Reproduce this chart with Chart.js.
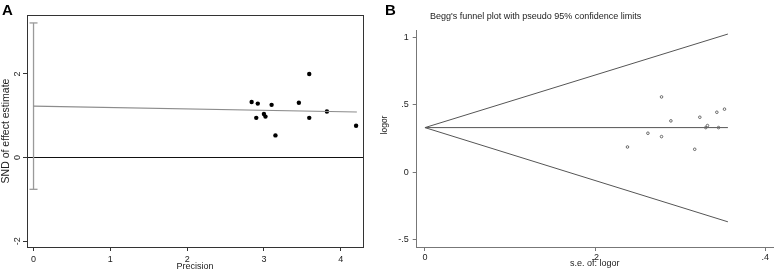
<!DOCTYPE html>
<html>
<head>
<meta charset="utf-8">
<script src="https://cdn.jsdelivr.net/npm/chart.js@4.4.1/dist/chart.umd.min.js"></script>
<style>
  html, body { margin: 0; padding: 0; background: #fff; }
  #wrap { position: relative; width: 778px; height: 272px; overflow: hidden; }
  canvas { position: absolute; top: 0; }
  #chartA { left: 0; }
  #chartB { left: 378px; }
</style>
</head>
<body>
<div id="wrap">
  <canvas id="chartA" width="380" height="272"></canvas>
  <canvas id="chartB" width="400" height="272"></canvas>
</div>
<script>
'use strict';

// Panel A - Egger's test: precision vs standard normal deviate
var precision   = [2.84, 2.92, 2.90, 3.00, 3.02, 3.10, 3.15, 3.455, 3.59, 3.59, 3.82, 4.20];
var sndEffect   = [1.33, 1.29, 0.95, 1.04, 0.98, 1.26, 0.53, 1.31, 2.00, 0.95, 1.10, 0.76];
var eggerLineX  = [0, 4.21];
var eggerLineY  = [1.23, 1.09];
var interceptCI = [-0.76, 3.22];   // 95% CI of the intercept, shown at precision 0
var aXTicks     = [0, 1, 2, 3, 4];
var aYTicks     = [-2, 0, 2];

// Panel B - Begg's funnel plot
var seLogor     = [0.352, 0.343, 0.345, 0.332, 0.330, 0.323, 0.317, 0.289, 0.278, 0.278, 0.262, 0.238];
var logor       = [0.467, 0.444, 0.330, 0.345, 0.330, 0.407, 0.169, 0.380, 0.558, 0.263, 0.288, 0.186];
var funnelSE    = [0, 0.356];
var pooledLogor = [0.33, 0.33];
var upperLimit  = [0.33, 1.025];
var lowerLimit  = [0.33, -0.37];
var bXTicks     = [0, 0.2, 0.4];
var bXLabels    = ['0', '.2', '.4'];
var bYTicks     = [-0.5, 0, 0.5, 1];
var bYLabels    = ['-.5', '0', '.5', '1'];

var FAMILY = '"Liberation Sans", Arial, Helvetica, sans-serif';
Chart.defaults.font.family = FAMILY;
Chart.defaults.color = '#333';

function toPoints(xs, ys) {
    return xs.map(function (x, i) { return { x: x, y: ys[i] }; });
}

function fixedTicks(values) {
    return function (scale) {
        scale.ticks = values.map(function (v) { return { value: v }; });
    };
}

function labelFrom(values, labels) {
    return function (value) {
        var i = values.indexOf(value);
        return i < 0 ? '' : labels[i];
    };
}

// outline round the plot region (panel A only)
var frame = {
    id: 'frame',
    beforeDatasetsDraw: function (chart, args, opts) {
        var a = chart.chartArea, ctx = chart.ctx;
        ctx.save();
        ctx.strokeStyle = opts.color || '#333';
        ctx.lineWidth = 1;
        ctx.strokeRect(Math.round(a.left) + 0.5, Math.round(a.top) + 0.5,
                       Math.round(a.right - a.left), Math.round(a.bottom - a.top));
        ctx.restore();
    }
};

// free text: panel letters, graph title, rotated axis title
var panelText = {
    id: 'panelText',
    afterDraw: function (chart, args, opts) {
        var ctx = chart.ctx;
        (opts.items || []).forEach(function (it) {
            ctx.save();
            ctx.font = it.font;
            ctx.fillStyle = it.color || '#222';
            ctx.textAlign = it.align || 'left';
            ctx.textBaseline = it.baseline || 'alphabetic';
            ctx.translate(it.x, it.y);
            if (it.rotate) ctx.rotate(it.rotate);
            ctx.fillText(it.text, 0, 0);
            ctx.restore();
        });
    }
};

var tickFont = { size: 9, family: FAMILY };

// ---------- Panel A ----------
new Chart(document.getElementById('chartA').getContext('2d'), {
    type: 'scatter',
    data: {
        datasets: [
            {
                data: toPoints(eggerLineX, eggerLineY),
                showLine: true,
                borderColor: '#8c8c8c',
                borderWidth: 1.2,
                pointRadius: 0
            },
            {
                data: toPoints([0, 0], interceptCI),
                showLine: true,
                borderColor: '#9a9a9a',
                borderWidth: 1.3,
                pointStyle: 'line',
                pointRadius: 4,
                pointBorderWidth: 1.3,
                pointBorderColor: '#9a9a9a'
            },
            {
                data: toPoints(precision, sndEffect),
                pointRadius: 2.2,
                pointBorderWidth: 0,
                pointBackgroundColor: '#000'
            }
        ]
    },
    options: {
        responsive: false,
        animation: false,
        devicePixelRatio: 1,
        events: [],
        layout: { padding: { left: 0, top: 15, right: 17, bottom: 0 } },
        plugins: {
            legend: { display: false },
            tooltip: { enabled: false },
            frame: { color: '#333' },
            panelText: {
                items: [
                    { text: 'A', x: 2, y: 15, font: 'bold 15px ' + FAMILY, color: '#000' }
                ]
            }
        },
        scales: {
            x: {
                type: 'linear',
                min: -0.085,
                max: 4.29,
                afterBuildTicks: fixedTicks(aXTicks),
                afterFit: function (s) { s.height = 25; },
                border: { display: false },
                grid: { drawOnChartArea: false, tickLength: 4, tickColor: '#333', tickWidth: 1 },
                ticks: { font: tickFont, color: '#222', padding: 3, maxRotation: 0 },
                title: {
                    display: true, text: 'Precision', color: '#222',
                    font: { size: 9, lineHeight: 1 }, padding: { top: 0, bottom: 1 }
                }
            },
            y: {
                type: 'linear',
                min: -2.14,
                max: 3.41,
                afterBuildTicks: fixedTicks(aYTicks),
                afterFit: function (s) { s.width = 27; },
                border: { display: false },
                grid: {
                    color: function (c) {
                        return c.tick && c.tick.value === 0 ? '#111' : 'rgba(0,0,0,0)';
                    },
                    lineWidth: 1,
                    tickLength: 4,
                    tickColor: '#333'
                },
                ticks: {
                    font: tickFont, color: '#222', padding: 1,
                    minRotation: 90, maxRotation: 90, crossAlign: 'center'
                },
                title: {
                    display: true, text: 'SND of effect estimate', color: '#222',
                    font: { size: 10.5, lineHeight: 1 }, padding: { top: 1, bottom: 0 }
                }
            }
        }
    },
    plugins: [frame, panelText]
});

// ---------- Panel B ----------
new Chart(document.getElementById('chartB').getContext('2d'), {
    type: 'scatter',
    data: {
        datasets: [
            {
                data: toPoints(seLogor, logor),
                pointRadius: 1.3,
                pointBorderWidth: 1,
                pointBorderColor: '#666',
                pointBackgroundColor: 'rgba(0,0,0,0)'
            },
            {
                data: toPoints(funnelSE, pooledLogor),
                showLine: true, borderColor: '#555', borderWidth: 1, pointRadius: 0
            },
            {
                data: toPoints(funnelSE, upperLimit),
                showLine: true, borderColor: '#555', borderWidth: 1, pointRadius: 0
            },
            {
                data: toPoints(funnelSE, lowerLimit),
                showLine: true, borderColor: '#555', borderWidth: 1, pointRadius: 0
            }
        ]
    },
    options: {
        responsive: false,
        animation: false,
        devicePixelRatio: 1,
        events: [],
        layout: { padding: { left: 0, top: 30, right: 2.3, bottom: 0 } },
        plugins: {
            legend: { display: false },
            tooltip: { enabled: false },
            panelText: {
                items: [
                    { text: 'B', x: 7, y: 15, font: 'bold 15px ' + FAMILY, color: '#000' },
                    { text: "Begg's funnel plot with pseudo 95% confidence limits",
                      x: 52, y: 18.5, font: '9px ' + FAMILY, color: '#222' },
                    { text: 'logor', x: 7, y: 125, font: '8.5px ' + FAMILY, color: '#222',
                      align: 'center', baseline: 'middle', rotate: -Math.PI / 2 }
                ]
            }
        },
        scales: {
            x: {
                type: 'linear',
                min: -0.0097,
                max: 0.409,
                afterBuildTicks: fixedTicks(bXTicks),
                afterFit: function (s) { s.height = 25; },
                border: { display: true, color: '#777', width: 1 },
                grid: { drawOnChartArea: false, tickLength: 4, tickColor: '#777' },
                ticks: {
                    font: tickFont, color: '#222', padding: 1, maxRotation: 0,
                    callback: labelFrom(bXTicks, bXLabels)
                },
                title: {
                    display: true, text: 's.e. of: logor', color: '#222',
                    font: { size: 9, lineHeight: 1 }, padding: { top: 0, bottom: 3.5 }
                }
            },
            y: {
                type: 'linear',
                min: -0.557,
                max: 1.055,
                afterBuildTicks: fixedTicks(bYTicks),
                afterFit: function (s) { s.width = 38.7; },
                border: { display: true, color: '#777', width: 1 },
                grid: { drawOnChartArea: false, tickLength: 4, tickColor: '#777' },
                ticks: {
                    font: tickFont, color: '#222', padding: 4,
                    callback: labelFrom(bYTicks, bYLabels)
                }
            }
        }
    },
    plugins: [panelText]
});
</script>
</body>
</html>
